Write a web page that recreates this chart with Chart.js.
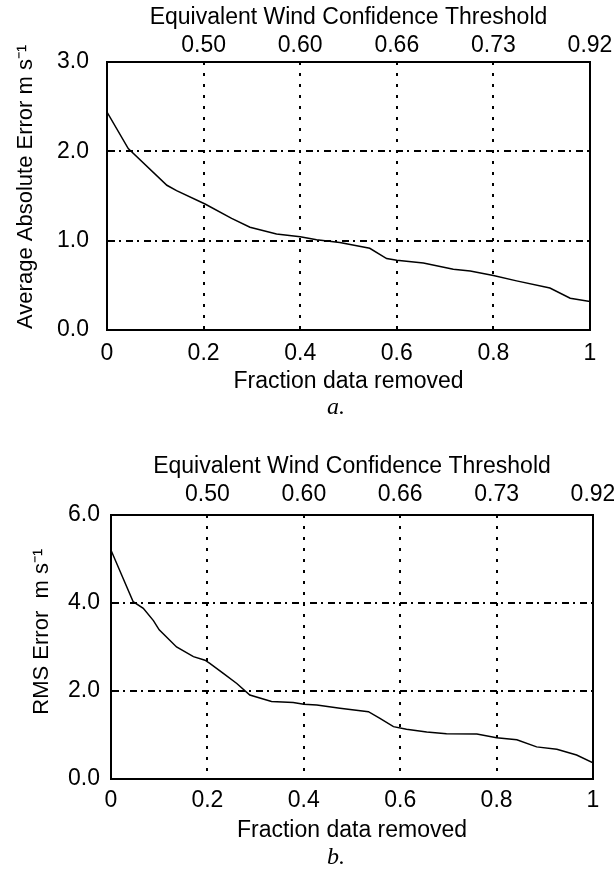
<!DOCTYPE html>
<html>
<head>
<meta charset="utf-8">
<title>Wind error vs fraction removed</title>
<script src="https://cdn.jsdelivr.net/npm/chart.js@4.4.0/dist/chart.umd.min.js"></script>
<style>
    html, body { margin: 0; padding: 0; background: #fff; }
    body { width: 614px; height: 882px; position: relative; overflow: hidden; }
    .chart-box { position: absolute; left: 0; width: 614px; height: 400px; }
    .caption { position: absolute; left: 236px; width: 200px; height: 28px; line-height: 28px; text-align: center; font: italic 24px "Liberation Serif", serif; color: #000; }
</style>
</head>
<body>
<div class="chart-box" style="top:0"><canvas id="average-error-chart"></canvas></div>
<div class="caption" style="top:393px">a.</div>
<div class="chart-box" style="top:450px"><canvas id="rms-error-chart"></canvas></div>
<div class="caption" style="top:843px">b.</div>
<script>
// bottom axis: fraction of data removed
const fractionTicks = [0, 0.2, 0.4, 0.6, 0.8, 1];
const fractionTickLabels = ['0', '0.2', '0.4', '0.6', '0.8', '1'];
// top axis: equivalent wind confidence threshold
const thresholdTicks = [0.2, 0.4, 0.6, 0.8, 1];
const thresholdTickLabels = ['0.50', '0.60', '0.66', '0.73', '0.92'];

// (a) average absolute error
const averageFraction = [0, 0.044, 0.124, 0.144, 0.203, 0.258, 0.296, 0.351, 0.40, 0.434, 0.482, 0.544, 0.579, 0.60, 0.655, 0.717, 0.752, 0.80, 0.848, 0.917, 0.959, 1.0];
const averageError = [2.44, 2.03, 1.62, 1.56, 1.41, 1.25, 1.15, 1.075, 1.045, 1.01, 0.98, 0.915, 0.80, 0.78, 0.75, 0.68, 0.66, 0.61, 0.55, 0.47, 0.355, 0.32];
const averageTicks = [0, 1, 2, 3];
const averageTickLabels = ['0.0', '1.0', '2.0', '3.0'];

// (b) rms error
const rmsFraction = [0, 0.046, 0.067, 0.088, 0.10, 0.136, 0.171, 0.195, 0.205, 0.233, 0.261, 0.288, 0.333, 0.378, 0.40, 0.427, 0.475, 0.534, 0.558, 0.586, 0.613, 0.655, 0.696, 0.759, 0.80, 0.842, 0.883, 0.925, 0.966, 1.0];
const rmsError = [5.2, 4.03, 3.88, 3.6, 3.39, 3.0, 2.78, 2.70, 2.63, 2.40, 2.17, 1.91, 1.76, 1.74, 1.70, 1.68, 1.61, 1.53, 1.38, 1.19, 1.13, 1.07, 1.03, 1.02, 0.94, 0.89, 0.73, 0.675, 0.545, 0.37];
const rmsTicks = [0, 2, 4, 6];
const rmsTickLabels = ['0.0', '2.0', '4.0', '6.0'];

const errorCharts = {
    font: { family: '"Liberation Sans", Arial, sans-serif', size: 23 },
    titleFont: { family: '"Liberation Sans", Arial, sans-serif', size: 22 },

    init: function () {
        Chart.defaults.color = '#000';
        this.generateAverageChart();
        this.generateRmsChart();
    },

    buildOptions: function (cfg) {
        const font = this.font;
        return {
            responsive: true,
            maintainAspectRatio: false,
            animation: false,
            events: [],
            layout: { padding: { left: 0, right: cfg.right, top: 0, bottom: 0 } },
            plugins: { legend: { display: false }, tooltip: { enabled: false } },
            scales: {
                x: {
                    type: 'linear', position: 'bottom', min: 0, max: 1,
                    afterBuildTicks: s => { s.ticks = fractionTicks.map(v => ({ value: v })); },
                    afterFit: s => { s.height = cfg.bottomHeight; s.paddingLeft = 0; s.paddingRight = 0; },
                    ticks: { padding: cfg.bottomTickPad, font: font, autoSkip: false, maxRotation: 0,
                        callback: (v, i) => fractionTickLabels[i] },
                    grid: { color: '#000', lineWidth: 2, drawTicks: false },
                    border: { color: '#000', width: 2, dash: [3, 8] },
                    title: { display: true, text: 'Fraction data removed', font: font,
                        padding: { top: 0, bottom: cfg.bottomTitlePad } }
                },
                x2: {
                    type: 'linear', position: 'top', min: 0, max: 1,
                    afterBuildTicks: s => { s.ticks = thresholdTicks.map(v => ({ value: v })); },
                    afterFit: s => { s.height = cfg.topHeight; s.paddingLeft = 0; s.paddingRight = 0; },
                    ticks: { padding: cfg.topTickPad, font: font, autoSkip: false, maxRotation: 0,
                        callback: (v, i) => thresholdTickLabels[i] },
                    grid: { drawOnChartArea: false, drawTicks: false },
                    border: { color: '#000', width: 2 },
                    title: { display: true, text: 'Equivalent Wind Confidence Threshold', font: font,
                        padding: { top: cfg.topTitlePad, bottom: 0 } }
                },
                y: {
                    type: 'linear', position: 'left', min: 0, max: cfg.yTicks[cfg.yTicks.length - 1],
                    afterBuildTicks: s => { s.ticks = cfg.yTicks.map(v => ({ value: v })); },
                    afterFit: s => { s.width = cfg.leftWidth; },
                    ticks: { padding: cfg.leftTickPad, font: font, callback: (v, i) => cfg.yTickLabels[i] },
                    grid: { color: '#000', lineWidth: 2, drawTicks: false },
                    border: { color: '#000', width: 2, dash: [7, 4, 2, 5] },
                    title: { display: true, text: cfg.yTitle, font: this.titleFont,
                        padding: { top: cfg.yTitlePad, bottom: 0 } }
                },
                y2: {
                    type: 'linear', position: 'right', min: 0, max: 1,
                    afterFit: s => { s.width = 0; },
                    ticks: { display: false },
                    grid: { drawOnChartArea: false, drawTicks: false },
                    border: { color: '#000', width: 2 }
                }
            }
        };
    },

    makeLine: function (xs, ys) {
        return {
            data: xs.map((x, i) => ({ x: x, y: ys[i] })),
            borderColor: '#000',
            borderWidth: 1.5,
            pointRadius: 0,
            tension: 0,
            fill: false
        };
    },

    generateAverageChart: function () {
        const ctx = document.getElementById('average-error-chart').getContext('2d');
        new Chart(ctx, {
            type: 'line',
            data: { datasets: [this.makeLine(averageFraction, averageError)] },
            options: this.buildOptions({
                right: 24, topHeight: 62, bottomHeight: 70, leftWidth: 107,
                topTickPad: 3, topTitlePad: 4, bottomTickPad: 10, bottomTitlePad: 5,
                leftTickPad: 18, yTitlePad: 13,
                yTicks: averageTicks, yTickLabels: averageTickLabels,
                yTitle: '   Average Absolute Error m s\u207B\u00B9'
            })
        });
    },

    generateRmsChart: function () {
        const ctx = document.getElementById('rms-error-chart').getContext('2d');
        new Chart(ctx, {
            type: 'line',
            data: { datasets: [this.makeLine(rmsFraction, rmsError)] },
            options: this.buildOptions({
                right: 21, topHeight: 65, bottomHeight: 71, leftWidth: 111,
                topTickPad: 7, topTitlePad: 3, bottomTickPad: 8, bottomTitlePad: 6,
                leftTickPad: 11, yTitlePad: 29,
                yTicks: rmsTicks, yTickLabels: rmsTickLabels,
                yTitle: '     RMS Error  m s\u207B\u00B9'
            })
        });
    }
};

errorCharts.init();
</script>
</body>
</html>
